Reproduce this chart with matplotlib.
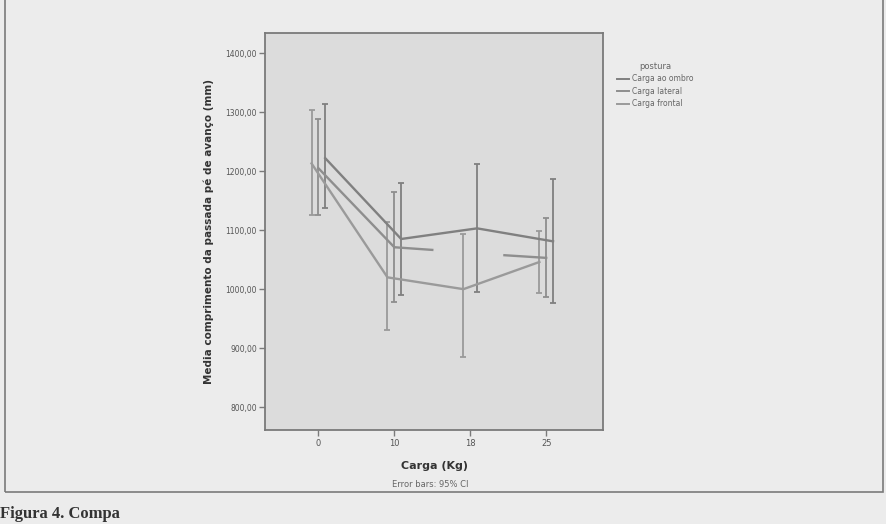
import numpy as np
import matplotlib
matplotlib.use('Agg')
import matplotlib.pyplot as plt
from matplotlib.lines import Line2D
from matplotlib.patches import Rectangle

# data (means and 95% CI)
cargas = ['0', '10', '18', '25']
posturas = ['Carga ao ombro', 'Carga lateral', 'Carga frontal']

media_ombro = [1222, 1085, 1103, 1081]
ci_low_ombro = [1137, 990, 995, 976]
ci_high_ombro = [1314, 1180, 1212, 1186]

media_lateral = [1205, 1071, np.nan, 1053]
ci_low_lateral = [1125, 978, np.nan, 987]
ci_high_lateral = [1288, 1165, np.nan, 1120]

media_frontal = [1213, 1020, 1000, 1046]
ci_low_frontal = [1125, 930, 885, 994]
ci_high_frontal = [1304, 1113, 1094, 1099]

yticks = [800, 900, 1000, 1100, 1200, 1300, 1400]

paper = '#ececec'
plot_bg = '#dcdcdc'
frame = '#7a7a7a'
cores = ['#808080', '#8e8e8e', '#9a9a9a']
dodge = [0.09, 0.0, -0.09]

fig = plt.figure(figsize=(8.87, 5.24), dpi=100, facecolor=paper)

# outer chart frame
fig.patches.append(Rectangle((0.006, 0.062), 0.99, 0.95, transform=fig.transFigure,
                             fill=False, edgecolor=frame, lw=1.2))

ax = fig.add_axes([0.299, 0.179, 0.381, 0.758])
ax.set_facecolor(plot_bg)

series = [
    (media_ombro, ci_low_ombro, ci_high_ombro),
    (media_lateral, ci_low_lateral, ci_high_lateral),
    (media_frontal, ci_low_frontal, ci_high_frontal),
]

x = np.arange(len(cargas))
for k, (m, lo, hi) in enumerate(series):
    m = np.array(m, dtype=float)
    lo = np.array(lo, dtype=float)
    hi = np.array(hi, dtype=float)
    xs = x + dodge[k]
    ax.plot(xs, m, color=cores[k], lw=1.7, zorder=3)
    ok = ~np.isnan(m)
    ax.errorbar(xs[ok], m[ok], yerr=[m[ok] - lo[ok], hi[ok] - m[ok]], fmt='none',
                ecolor=cores[k], elinewidth=1.3, capsize=2.5, capthick=1.3, zorder=2)
    # SPSS draws half segments towards a missing category
    for i in np.where(~ok)[0]:
        if 0 < i < len(m) - 1:
            meio = (m[i - 1] + m[i + 1]) / 2
            ax.plot([xs[i - 1], x[i] - 0.5 + dodge[k]], [m[i - 1], (m[i - 1] + meio) / 2],
                    color=cores[k], lw=1.7, zorder=3)
            ax.plot([xs[i + 1], x[i] + 0.45 + dodge[k]], [m[i + 1], (m[i + 1] + meio) / 2],
                    color=cores[k], lw=1.7, zorder=3)

ax.set_xlim(-0.70, 3.75)
ax.set_ylim(761, 1434)
ax.set_xticks(x)
ax.set_xticklabels(cargas, fontsize=6, color='#555555')
ax.set_yticks(yticks)
ax.set_yticklabels(['%d,00' % v for v in yticks], fontsize=5.5, color='#555555')
ax.tick_params(length=4, width=1, color=frame, pad=2)
for s in ax.spines.values():
    s.set_color(frame)
    s.set_linewidth(1.3)

ax.set_xlabel('Carga (Kg)', fontsize=8, fontweight='bold', color='#333333', labelpad=10)
ax.set_ylabel('Media comprimento da passada pé de avanço (mm)', fontsize=7.5,
              fontweight='bold', color='#333333', labelpad=8)

fig.text(0.485, 0.066, 'Error bars: 95% CI', fontsize=6, color='#666666',
         ha='center', va='bottom')

# legend
handles = [Line2D([], [], color=c, lw=1.4) for c in cores]
leg = fig.legend(handles, posturas, title='postura', loc='upper left',
                 bbox_to_anchor=(0.688, 0.895), frameon=False, fontsize=5.5,
                 title_fontsize=6, handlelength=1.6, handletextpad=0.3,
                 labelspacing=0.45)
for t in leg.get_texts():
    t.set_color('#666666')
leg.get_title().set_color('#666666')

fig.text(0.0, 0.003, 'Figura 4. Compa', fontsize=12, fontweight='bold',
         family='Liberation Serif', color='#333333', ha='left', va='bottom')

fig.savefig('out.png', dpi=100, facecolor=paper)
